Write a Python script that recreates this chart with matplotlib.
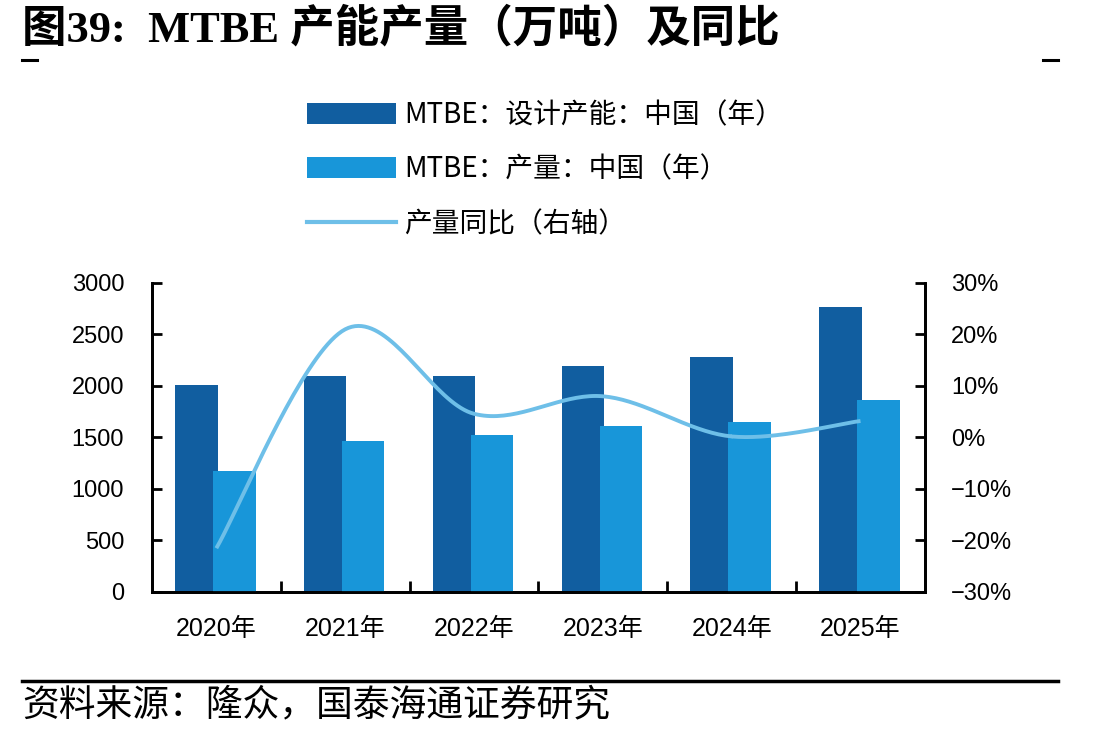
import numpy as np
import matplotlib.pyplot as plt
from matplotlib.patches import Patch
from matplotlib.lines import Line2D

plt.rcParams['font.family'] = ['Liberation Sans', 'Noto Sans CJK SC']
plt.rcParams['axes.unicode_minus'] = True

# values
years = ['2020年', '2021年', '2022年', '2023年', '2024年', '2025年']
capacity = [2010, 2100, 2100, 2195, 2285, 2770]   # 设计产能, 万吨
output = [1170, 1465, 1525, 1610, 1650, 1860]     # 产量, 万吨
yoy = [-21.5, 21.0, 4.6, 8.0, 0.2, 3.2]           # 产量同比, %

left_ticks = [0, 500, 1000, 1500, 2000, 2500, 3000]
right_ticks = [-30, -20, -10, 0, 10, 20, 30]

c_cap = '#115ea0'
c_out = '#1896d9'
c_yoy = '#6ebfe8'


def smooth(xs, ys, n=40):
    # Catmull-Rom style smoothing, like the office chart "smoothed line"
    xs = np.asarray(xs, float)
    ys = np.asarray(ys, float)
    px = np.concatenate([[xs[0]], xs, [xs[-1]]])
    py = np.concatenate([[ys[0]], ys, [ys[-1]]])
    out_x, out_y = [], []
    t = np.linspace(0, 1, n)
    for i in range(1, len(px) - 2):
        for p, acc in ((px, out_x), (py, out_y)):
            p0, p1, p2, p3 = p[i - 1], p[i], p[i + 1], p[i + 2]
            acc.extend(0.5 * (2 * p1 + (-p0 + p2) * t
                              + (2 * p0 - 5 * p1 + 4 * p2 - p3) * t ** 2
                              + (-p0 + 3 * p1 - 3 * p2 + p3) * t ** 3))
    return np.array(out_x), np.array(out_y)


fig = plt.figure(figsize=(11.09, 7.35), dpi=100)
ax = fig.add_axes([0.137, 0.1946, 0.697, 0.4204])

x = np.arange(len(years))
ax.bar(x - 0.155, capacity, width=0.33, color=c_cap, zorder=2)
ax.bar(x + 0.14, output, width=0.33, color=c_out, zorder=3)

ax.set_xlim(-0.5, len(years) - 0.5)
ax.set_ylim(0, 3000)
ax.set_yticks(left_ticks)
ax.set_xticks(x)
ax.set_xticklabels(years, fontsize=18)
ax.set_xticks(np.arange(0.5, len(years) - 1), minor=True)
ax.tick_params(axis='x', which='major', length=0, pad=18)
ax.tick_params(axis='x', which='minor', direction='in', length=8, width=2)
ax.tick_params(axis='y', direction='in', length=7, width=2, labelsize=17, pad=20)
for side in ('left', 'bottom', 'right'):
    ax.spines[side].set_linewidth(2)
ax.spines['top'].set_visible(False)

ax2 = ax.twinx()
sx, sy = smooth(x, yoy)
ax2.plot(sx, sy, color=c_yoy, lw=2.8, solid_capstyle='butt', zorder=4)
ax2.set_ylim(-30, 30)
ax2.set_yticks(right_ticks)
ax2.set_yticklabels([f'{v}%'.replace('-', '\u2212') for v in right_ticks])
ax2.tick_params(axis='y', direction='in', length=7, width=2, labelsize=17, pad=19)
for side in ('left', 'bottom', 'right'):
    ax2.spines[side].set_linewidth(2)
ax2.spines['top'].set_visible(False)
ax2.set_zorder(ax.get_zorder() + 1)
ax2.patch.set_visible(False)

handles = [
    Patch(facecolor=c_cap, label='MTBE：设计产能：中国（年）'),
    Patch(facecolor=c_out, label='MTBE：产量：中国（年）'),
    Line2D([], [], color=c_yoy, lw=3, label='产量同比（右轴）'),
]
fig.legend(handles=handles, loc='upper left', bbox_to_anchor=(0.277, 0.864),
           frameon=False, handlelength=3.2, handleheight=0.8,
           handletextpad=0.3, labelspacing=0.88, borderpad=0, borderaxespad=0,
           prop={'family': ['Noto Sans CJK SC'], 'size': 20})

# header
fig.text(22 / 1109, 1 - 29 / 735, '图39:  MTBE 产能产量（万吨）及同比',
         fontsize=32, fontweight='bold', va='center', ha='left',
         family=['Liberation Serif', 'Noto Sans CJK SC'])
fig.add_artist(Line2D([22 / 1109, 37 / 1109], [1 - 60 / 735] * 2, color='black', lw=2.2))
fig.add_artist(Line2D([1043 / 1109, 1058 / 1109], [1 - 60 / 735] * 2, color='black', lw=2.2))

# footer
fig.add_artist(Line2D([22 / 1109, 1058 / 1109], [1 - 681 / 735] * 2, color='black', lw=2.5))
fig.text(22 / 1109, 1 - 705 / 735, '资料来源：隆众，国泰海通证券研究',
         fontsize=26.5, va='center', ha='left', family=['Noto Sans CJK SC'])

fig.savefig('out.png', dpi=100)
